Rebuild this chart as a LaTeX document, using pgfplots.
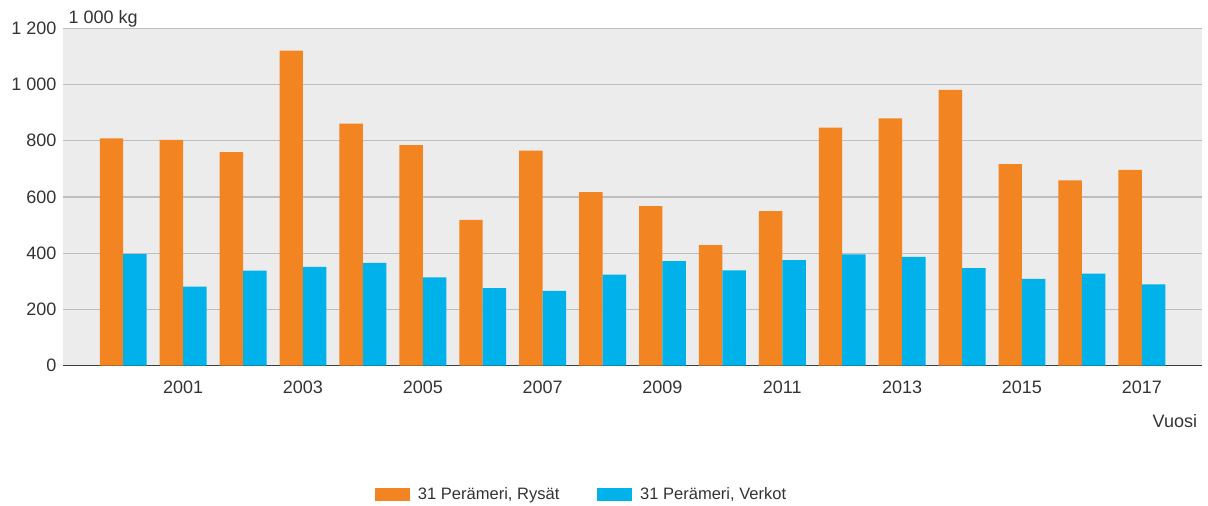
\documentclass[border=0pt]{standalone}
\usepackage{pgfplots}
\pgfplotsset{compat=1.18}
\usepackage{fontspec}
\setmainfont{Liberation Sans}
\definecolor{cOr}{RGB}{242,132,33}
\definecolor{cBl}{RGB}{0,178,233}
\definecolor{cBg}{RGB}{236,236,236}
\definecolor{cGr}{RGB}{190,190,190}
\definecolor{cTx}{RGB}{51,51,51}
\definecolor{cAx}{RGB}{60,60,60}
\begin{document}
\begin{tikzpicture}
\path[use as bounding box] (0pt,0pt) rectangle (906pt,379.5pt);
\begin{axis}[
  at={(47.5pt,105.2pt)}, anchor=south west,
  scale only axis, width=853.8pt, height=253.05pt,
  ybar=0pt, bar width=17.6pt,
  xmin=1999, xmax=2018, ymin=0, ymax=1200,
  xtick={2001,2003,...,2017},
  ytick={0,200,...,1200},
  major tick length=0pt,
  axis background/.style={fill=cBg},
  axis x line*=bottom, axis y line*=left,
  x axis line style={-, draw=cAx, line width=1pt},
  y axis line style={draw=none},
  ymajorgrids, grid style={cGr, line width=0.9pt},
  /pgf/number format/assume math mode=true,
  font=\fontsize{13.5}{15}\selectfont\color{cTx},
  ticklabel style={font=\fontsize{13.5}{15}\selectfont, text=cTx},
  xticklabel style={anchor=base, inner sep=0pt, yshift=-20.7pt, /pgf/number format/1000 sep={}},
  yticklabel style={anchor=east, inner sep=0pt, xshift=-5pt, /pgf/number format/1000 sep={\ }},
  legend style={at={(0.2738,-0.381)}, anchor=west, draw=none, fill=none, inner sep=0pt,
    font=\fontsize{12.4}{15}\selectfont, text=cTx,
    /tikz/every even column/.append style={column sep=26.5pt}},
  legend columns=2, legend cell align=left,
  legend image code/.code={\fill[#1] (0pt,-4.9pt) rectangle (26.25pt,4.9pt);\path (30pt,0pt);},
  clip=false,
]
\addplot[fill=cOr, draw=none] coordinates {
(2000,809) (2001,803) (2002,760) (2003,1121) (2004,861) (2005,785) (2006,519)
(2007,765) (2008,617) (2009,568) (2010,429) (2011,550) (2012,847) (2013,880)
(2014,981) (2015,717) (2016,659) (2017,697)};
\addplot[fill=cBl, draw=none] coordinates {
(2000,397) (2001,281) (2002,338) (2003,352) (2004,366) (2005,314) (2006,276)
(2007,266) (2008,324) (2009,372) (2010,339) (2011,376) (2012,396) (2013,387)
(2014,347) (2015,309) (2016,328) (2017,289)};
\legend{{31 Perämeri, Rysät}, {31 Perämeri, Verkot}}
\node[anchor=base west, inner sep=0pt, text=cTx, font=\fontsize{13.5}{15}\selectfont]
  at (rel axis cs:0,1) [xshift=3.75pt, yshift=3.75pt] {1 000 kg};
\node[anchor=base east, inner sep=0pt, text=cTx, font=\fontsize{13.5}{15}\selectfont]
  at (rel axis cs:1,0) [xshift=-3.3pt, yshift=-46pt] {Vuosi};
\end{axis}
\end{tikzpicture}
\end{document}
